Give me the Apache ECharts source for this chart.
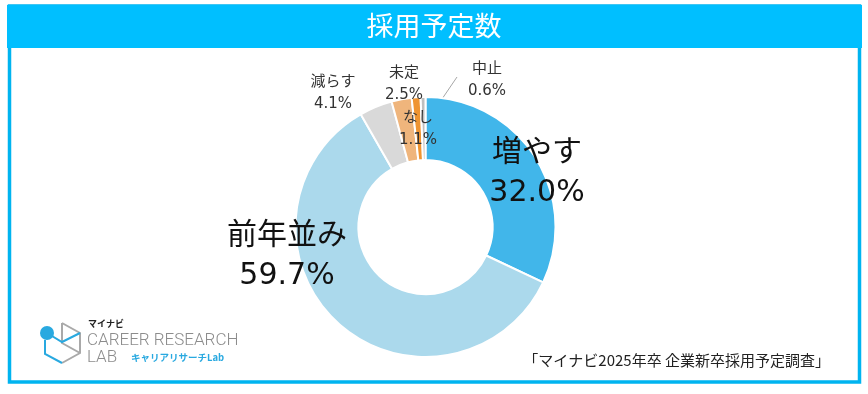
<!DOCTYPE html>
<html><head><meta charset="utf-8">
<script src="https://cdn.jsdelivr.net/npm/echarts@6/dist/echarts.min.js"></script>
<style>html,body{margin:0;padding:0;background:#fff}#c{width:868px;height:394px}</style>
</head><body><div id="c"></div>
<script>
const categories = ['増やす','前年並み','減らす','未定','なし','中止'];
const values = [32.0, 59.7, 4.1, 2.5, 1.1, 0.6];
const titleText = '採用予定数';
const sourceText = '「マイナビ2025年卒 企業新卒採用予定調査」';

const colors = ['#41b6ea','#abd9ec','#d9d9d9','#efb57c','#ef9431','#bfbfbf'];
const labelPos = [[537,173],[287,256],[333,93],[404,84],[418,129],[487,80]];
const big = [true,true,false,false,false,false];
const FONT = '"DejaVu Sans","Noto Sans CJK JP",sans-serif';
const JP = '"Noto Sans CJK JP",sans-serif';

const chart = echarts.init(document.getElementById('c'), null, {renderer:'canvas'});
chart.setOption({
  animation:false,
  graphic:[
    {type:'rect', shape:{x:9.5,y:6,width:850,height:376}, style:{fill:'none',stroke:'#00b4f0',lineWidth:3.5}, z:1},
    {type:'rect', shape:{x:7,y:5,width:855,height:43}, style:{fill:'#00bfff'}, z:2},
    {type:'text', left:'center', top:12, style:{text:titleText, fill:'#fff', font:'27px '+JP}, z:3},
    {type:'text', right:38, top:353, style:{text:sourceText, fill:'#222', font:'15px '+JP}, z:3},
    // logo
    {type:'polyline', shape:{points:[[62,323],[80,333],[80,353],[62,363]]}, style:{stroke:'#a9a9a9',lineWidth:2,fill:'none'}, z:3},
    {type:'polyline', shape:{points:[[62,323],[62,343],[80,353]]}, style:{stroke:'#a9a9a9',lineWidth:2,fill:'none'}, z:3},
    {type:'polyline', shape:{points:[[47,333],[62,342],[80,333]]}, style:{stroke:'#29a9e0',lineWidth:2,fill:'none'}, z:3},
    {type:'polyline', shape:{points:[[45,340],[45,354],[62,363]]}, style:{stroke:'#29a9e0',lineWidth:2,fill:'none'}, z:3},
    {type:'circle', shape:{cx:47,cy:333,r:7}, style:{fill:'#29a9e0'}, z:4},
    {type:'text', x:88, y:319, style:{text:'マイナビ', fill:'#222', font:'bold 9px '+JP}, z:3},
    {type:'text', x:87, y:332, style:{text:'CAREER RESEARCH', fill:'#8c8c8c', font:'300 17px Roboto'}, z:3},
    {type:'text', x:87, y:349, style:{text:'LAB', fill:'#8c8c8c', font:'300 17px Roboto'}, z:3},
    {type:'text', x:131, y:353, style:{text:'キャリアリサーチLab', fill:'#29a9e0', font:'bold 9.5px '+JP}, z:3}
  ],
  series:[{
    type:'pie',
    center:[425.5,227],
    radius:[67,130],
    startAngle:90,
    clockwise:true,
    avoidLabelOverlap:false,
    itemStyle:{borderColor:'#fff', borderWidth:2},
    emphasis:{disabled:true},
    data: categories.map((n,i)=>({
      name:n, value:values[i],
      itemStyle:{color:colors[i]},
      label:{
        show:true,
        formatter: p => p.name + '\n' + p.value.toFixed(1) + '%',
        color: big[i] ? '#111' : '#333',
        fontFamily: FONT,
        fontSize: big[i] ? 30 : 15,
        lineHeight: big[i] ? 40 : 22,
        align:'center'
      },
      labelLine:{show: i===5, lineStyle:{color:'#a6a6a6', width:1}}
    })),
    labelLayout: p => {
      const r = {
        x: labelPos[p.dataIndex][0],
        y: labelPos[p.dataIndex][1],
        align:'center',
        verticalAlign:'middle'
      };
      if (p.dataIndex === 5) r.labelLinePoints = [[428,121],[442,99],[457,77]];
      return r;
    }
  }]
});
</script></body></html>
